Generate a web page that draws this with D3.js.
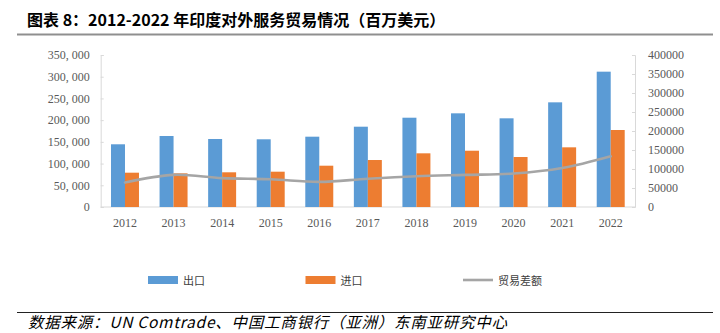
<!DOCTYPE html>
<html>
<head>
<meta charset="utf-8">
<script src="https://cdn.jsdelivr.net/npm/d3@7"></script>
<style>
  body { margin: 0; background: #fff; }
  svg { display: block; }
</style>
</head>
<body>
<div id="chart-area"></div>
<script>
// values (millions of USD)
const years = ['2012','2013','2014','2015','2016','2017','2018','2019','2020','2021','2022'];
const exportsUsd = [144400, 163500, 156600, 155900, 161900, 184900, 205600, 215700, 204200, 241000, 311600];
const importsUsd = [79000, 77500, 79900, 81300, 95100, 108200, 123600, 129600, 115100, 137400, 177300];
const balanceUsd = [64500, 84500, 76000, 73000, 66000, 74500, 81000, 84500, 88000, 102500, 133500];
const leftTicks = [0, 50000, 100000, 150000, 200000, 250000, 300000, 350000];
const rightTicks = [0, 50000, 100000, 150000, 200000, 250000, 300000, 350000, 400000];
const seriesNames = ['出口', '进口', '贸易差额'];

const width = 720, height = 333;
const plot = {left: 100.7, right: 635, top: 55, bottom: 207};
const colors = {'出口': '#5b9bd5', '进口': '#ed7d31', '贸易差额': '#a5a5a5'};
const labelFont = '"Liberation Serif", "Times New Roman", serif';

const svg = d3.select('#chart-area').append('svg')
    .attr('width', width)
    .attr('height', height);

// title + rules
svg.append('text')
    .attr('x', 27).attr('y', 26)
    .attr('font-family', '"Noto Sans CJK SC", sans-serif')
    .attr('font-weight', 'bold')
    .attr('font-size', 16)
    .attr('fill', '#000')
    .text('图表 8：2012-2022 年印度对外服务贸易情况（百万美元）');

svg.append('line')
    .attr('x1', 17).attr('x2', 713)
    .attr('y1', 34.5).attr('y2', 34.5)
    .attr('stroke', '#8f8f8f').attr('stroke-width', 2.2);

svg.append('line')
    .attr('x1', 17).attr('x2', 713)
    .attr('y1', 312.5).attr('y2', 312.5)
    .attr('stroke', '#222').attr('stroke-width', 1);

svg.append('text')
    .attr('x', 28).attr('y', 328)
    .attr('font-family', '"Noto Sans CJK SC", sans-serif')
    .attr('font-style', 'italic')
    .attr('font-size', 15.5)
    .attr('fill', '#000')
    .attr('textLength', 479)
    .text('数据来源：UN Comtrade、中国工商银行（亚洲）东南亚研究中心');

// scales
const x = d3.scaleBand()
    .domain(years)
    .range([plot.left, plot.right])
    .paddingInner(0.424)
    .paddingOuter(0.212);

const xSub = d3.scaleBand()
    .domain(['出口', '进口'])
    .range([0, x.bandwidth()]);

const yLeft = d3.scaleLinear()
    .domain([0, 350000])
    .range([plot.bottom, plot.top]);

const yRight = d3.scaleLinear()
    .domain([0, 400000])
    .range([plot.bottom, plot.top]);

// axes
const fmtLeft = v => d3.format(',')(v).replace(/,/g, ', ');

const axL = svg.append('g')
    .attr('transform', `translate(${plot.left},0)`)
    .call(d3.axisLeft(yLeft).tickValues(leftTicks).tickFormat(fmtLeft).tickSize(-3).tickPadding(11));

const axR = svg.append('g')
    .attr('transform', `translate(${plot.right},0)`)
    .call(d3.axisRight(yRight).tickValues(rightTicks).tickFormat(d3.format('d')).tickSize(-3).tickPadding(13));

const axB = svg.append('g')
    .attr('transform', `translate(0,${plot.bottom})`)
    .call(d3.axisBottom(x).tickSize(0).tickPadding(11));

[axL, axR, axB].forEach(g => {
    g.select('.domain').attr('stroke', '#d9d9d9');
    g.selectAll('.tick line').attr('stroke', '#d9d9d9');
    g.selectAll('.tick text')
        .attr('font-family', labelFont)
        .attr('font-size', 12)
        .attr('fill', '#595959');
});
axB.select('.domain').attr('d', `M${plot.left},0H${plot.right}`);

// bars
const rows = years.map((yr, i) => ({year: yr, '出口': exportsUsd[i], '进口': importsUsd[i]}));

svg.append('g').selectAll('g')
    .data(rows)
    .join('g')
    .attr('transform', d => `translate(${x(d.year)},0)`)
    .selectAll('rect')
    .data(d => ['出口', '进口'].map(k => ({key: k, value: d[k]})))
    .join('rect')
    .attr('x', d => xSub(d.key))
    .attr('width', xSub.bandwidth())
    .attr('y', d => yLeft(d.value))
    .attr('height', d => yLeft(0) - yLeft(d.value))
    .attr('fill', d => colors[d.key]);

// balance line on the right axis
const line = d3.line()
    .x((d, i) => x(years[i]) + x.bandwidth() / 2)
    .y(d => yRight(d))
    .curve(d3.curveCatmullRom);

svg.append('path')
    .datum(balanceUsd)
    .attr('fill', 'none')
    .attr('stroke', colors['贸易差额'])
    .attr('stroke-width', 2.6)
    .attr('stroke-linecap', 'round')
    .attr('d', line);

// legend
const legend = svg.append('g').selectAll('g')
    .data(seriesNames)
    .join('g')
    .attr('transform', (d, i) => `translate(${148 + i * 157.5},280)`);

legend.filter(d => d !== '贸易差额').append('rect')
    .attr('x', 0).attr('y', -4)
    .attr('width', 30).attr('height', 8)
    .attr('fill', d => colors[d]);

legend.filter(d => d === '贸易差额').append('line')
    .attr('x1', 0).attr('x2', 30)
    .attr('stroke', d => colors[d])
    .attr('stroke-width', 2.6);

legend.append('text')
    .attr('x', 35).attr('y', 4.5)
    .attr('font-family', '"Noto Sans CJK SC", sans-serif')
    .attr('font-size', 11)
    .attr('fill', '#404040')
    .text(d => d);
</script>
</body>
</html>
